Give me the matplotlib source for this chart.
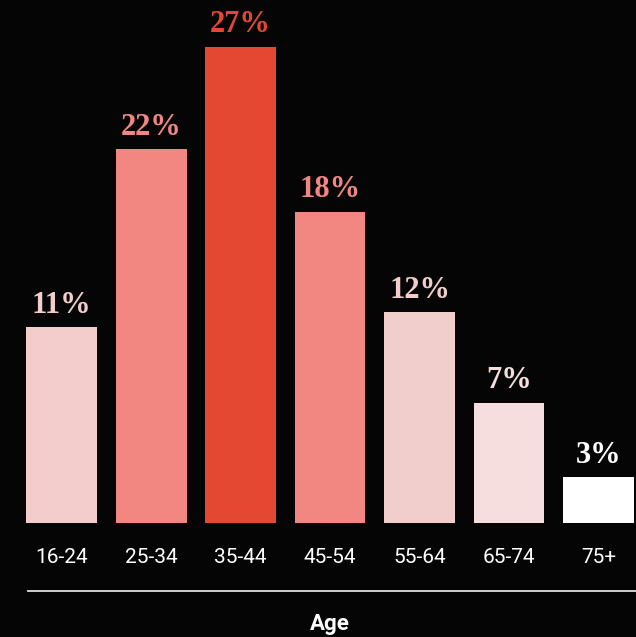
import matplotlib
matplotlib.use("Agg")
from matplotlib import pyplot as plt
from matplotlib import transforms

# data
ages = ["16-24", "25-34", "35-44", "45-54", "55-64", "65-74", "75+"]
heights = [11.1, 21.2, 27.0, 17.65, 11.95, 6.8, 2.6]   # bar heights
labels = ["11%", "22%", "27%", "18%", "12%", "7%", "3%"]
bar_colors = ["#F2CDCB", "#F28782", "#E54832", "#F28782", "#F1CDCB", "#F5DEDD", "#FFFFFF"]

BG = "#050505"


def main():
  fig = plt.figure(figsize=(6.36, 6.37), dpi=100)
  fig.patch.set_facecolor(BG)

  ax = fig.add_axes([0, 114 / 637, 1, 523 / 637])
  ax.set_facecolor(BG)

  x = range(len(ages))
  ax.bar(x, heights, width=0.79, color=bar_colors, linewidth=0)

  ax.set_xlim(-0.69, 6.42)
  ax.set_ylim(0, 29.67)
  ax.axis("off")

  # value labels above the bars
  for i, v in enumerate(heights):
    ax.annotate(labels[i], (i, v), xytext=(0, 5.5), textcoords="offset points",
                ha="center", va="bottom", color=bar_colors[i],
                fontsize=22, fontweight="bold", family="Liberation Serif")

  # category labels under the bars
  trans = transforms.blended_transform_factory(ax.transData, ax.transAxes)
  for i, lab in enumerate(ages):
    ax.text(i, -0.066, lab, transform=trans, ha="center", va="center",
            color="white", fontsize=15, family="Roboto")

  # rule and axis title
  ax.plot([-0.38, 6.42], [-0.13, -0.13], transform=trans, color="#E0E0E0",
          lw=1.3, clip_on=False)
  ax.text(3, -0.193, "Age", transform=trans, ha="center", va="center",
          color="white", fontsize=16, fontweight="bold", family="Roboto")

  fig.savefig("out.png", dpi=100, facecolor=BG)


if __name__ == "__main__":
  main()
